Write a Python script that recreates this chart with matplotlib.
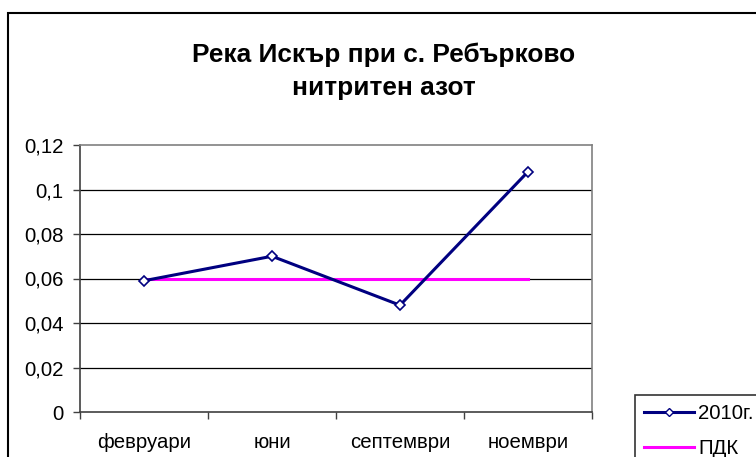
import matplotlib
matplotlib.use("Agg")
import matplotlib.pyplot as plt
from matplotlib.patches import Rectangle
from matplotlib.lines import Line2D

months = ['февруари', 'юни', 'септември', 'ноември']
values_2010 = [0.059, 0.070, 0.048, 0.108]
pdk = [0.06, 0.06, 0.06, 0.06]
y_ticks = [0, 0.02, 0.04, 0.06, 0.08, 0.1, 0.12]
y_labels = ['0', '0,02', '0,04', '0,06', '0,08', '0,1', '0,12']

plt.rcParams['font.family'] = ['Liberation Sans', 'DejaVu Sans']

W, H = 756, 457
fs = 14.7
fig = plt.figure(figsize=(W / 100, H / 100), dpi=100)

# outer chart frame (runs off the right and bottom edges like the source)
fig.patches.append(Rectangle((8 / W, -0.1), 2, 1 - 13 / H + 0.1,
                             transform=fig.transFigure, fill=False,
                             edgecolor='black', linewidth=1.5))

ax = fig.add_axes([80 / W, 45 / H, 512 / W, 267 / H])
x = list(range(len(months)))

ax.plot(x, pdk, color='#ff00ff', linewidth=2.2, zorder=3)
ax.plot(x, values_2010, color='#000080', linewidth=2.2, marker='D',
        markersize=5.5, markerfacecolor='white', markeredgecolor='#000080',
        markeredgewidth=1.2, zorder=4)

ax.set_xlim(-0.5, len(months) - 0.5)
ax.set_ylim(0, 0.12)
ax.set_yticks(y_ticks)
ax.set_yticklabels(y_labels)
ax.set_xticks(x)
ax.set_xticklabels(months)
ax.set_xticks([i - 0.5 for i in range(len(months) + 1)], minor=True)
ax.tick_params(axis='x', which='major', length=0, pad=15, labelsize=fs)
ax.tick_params(axis='x', which='minor', length=5, width=1, color='#404040')
ax.tick_params(axis='y', length=5, width=1, color='#404040', pad=7, labelsize=fs)

for v in y_ticks[1:-1]:
    ax.axhline(v, color='black', linewidth=0.9, zorder=1)

ax.spines['left'].set_color('#404040')
ax.spines['bottom'].set_color('#404040')
ax.spines['top'].set_color('#808080')
ax.spines['right'].set_color('#808080')
for s in ax.spines.values():
    s.set_linewidth(1.2)

fig.text(384 / W, 1 - 62 / H, 'Река Искър при с. Ребърково', ha='center',
         va='baseline', fontsize=18.9, fontweight='bold')
fig.text(384 / W, 1 - 95 / H, 'нитритен азот', ha='center',
         va='baseline', fontsize=18.9, fontweight='bold')

handles = [
    Line2D([], [], color='#000080', linewidth=2.2, marker='D', markersize=4,
           markerfacecolor='white', markeredgecolor='#000080'),
    Line2D([], [], color='#ff00ff', linewidth=2.2),
]
leg = fig.legend(handles, ['2010г.', 'ПДК'], loc='upper left',
                 bbox_to_anchor=(635 / W, 1 - 395 / H), frameon=True,
                 fancybox=False, edgecolor='black', fontsize=fs,
                 handlelength=2.45, handletextpad=0.2, borderpad=0.45,
                 labelspacing=0.76, borderaxespad=0)
leg.get_frame().set_linewidth(1.2)

fig.savefig('out.png', dpi=100)
